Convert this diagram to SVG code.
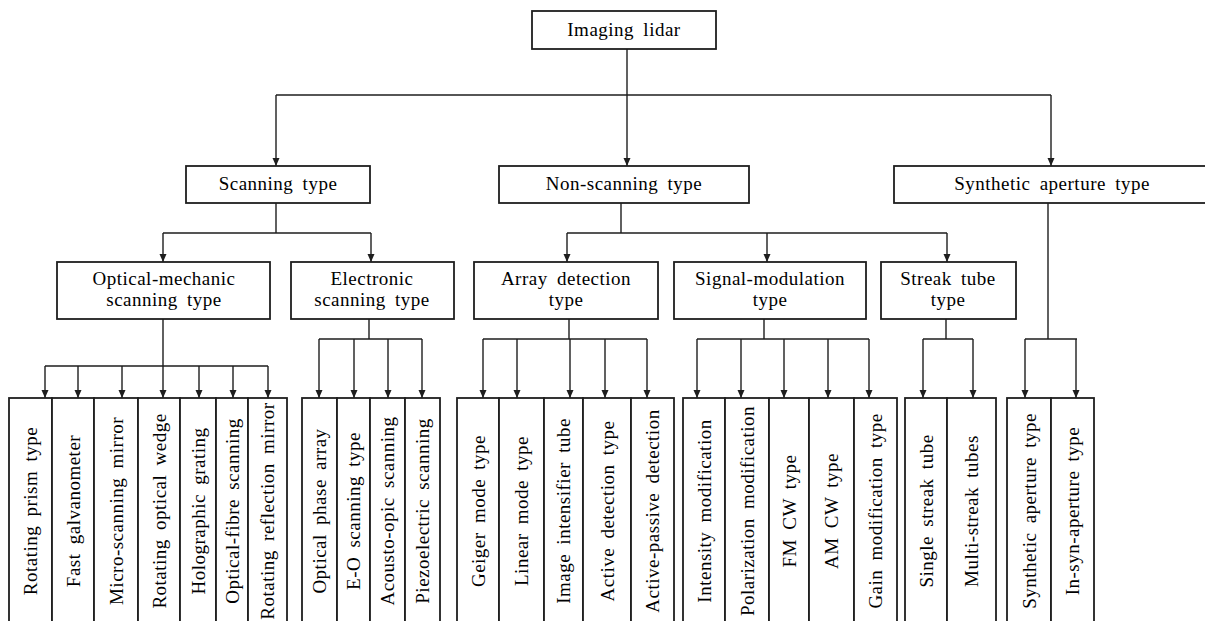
<svg xmlns="http://www.w3.org/2000/svg" width="1205" height="621" viewBox="0 0 1205 621">
<style>
.box{fill:#fff;stroke:#1e1e1e;stroke-width:1.8}
.ln{fill:none;stroke:#1e1e1e;stroke-width:1.4}
.ar{fill:none;stroke:#1e1e1e;stroke-width:1.4;marker-end:url(#ah)}
text{font-family:"Liberation Serif","Times New Roman",serif;font-size:19px;fill:#000;letter-spacing:0.5px;word-spacing:4px}
.c{text-anchor:middle}
.v{text-anchor:middle;dominant-baseline:central}
</style>
<defs>
<marker id="ah" markerUnits="userSpaceOnUse" markerWidth="8" markerHeight="8" refX="8" refY="3.5" orient="auto">
<path d="M0,0 L8,3.5 L0,7 z" fill="#1e1e1e"/>
</marker>
</defs>
<rect width="1205" height="621" fill="#fff"/>

<g id="connectors">
<path class="ln" d="M276,95 H1051"/>
<path class="ar" d="M627,49 V166"/>
<path class="ar" d="M276,95 V166"/>
<path class="ar" d="M1051,95 V166"/>

<path class="ln" d="M276,203 V233 M163,233 H371"/>
<path class="ar" d="M163,233 V262"/>
<path class="ar" d="M371,233 V262"/>

<path class="ln" d="M621,203 V233 M567,233 H947"/>
<path class="ar" d="M567,233 V262"/>
<path class="ar" d="M767,233 V262"/>
<path class="ar" d="M947,233 V262"/>

<path class="ln" d="M1048,203 V339 M1025,339 H1077"/>
<path class="ar" d="M1025,339 V398"/>
<path class="ar" d="M1076,339 V398"/>

<path class="ln" d="M163,319 V366 M45,366 H268"/>
<path class="ar" d="M45,366 V398"/>
<path class="ar" d="M78,366 V398"/>
<path class="ar" d="M122,366 V398"/>
<path class="ar" d="M163,366 V398"/>
<path class="ar" d="M199,366 V398"/>
<path class="ar" d="M233,366 V398"/>
<path class="ar" d="M268,366 V398"/>

<path class="ln" d="M369,319 V339 M319,339 H422"/>
<path class="ar" d="M319,339 V398"/>
<path class="ar" d="M354,339 V398"/>
<path class="ar" d="M388,339 V398"/>
<path class="ar" d="M422,339 V398"/>

<path class="ln" d="M569,319 V339 M483,339 H647"/>
<path class="ar" d="M483,339 V398"/>
<path class="ar" d="M517,339 V398"/>
<path class="ar" d="M570,339 V398"/>
<path class="ar" d="M605,339 V398"/>
<path class="ar" d="M647,339 V398"/>

<path class="ln" d="M764,319 V339 M697,339 H869"/>
<path class="ar" d="M697,339 V398"/>
<path class="ar" d="M741,339 V398"/>
<path class="ar" d="M784,339 V398"/>
<path class="ar" d="M828,339 V398"/>
<path class="ar" d="M869,339 V398"/>

<path class="ln" d="M946,319 V339 M923,339 H973"/>
<path class="ar" d="M923,339 V398"/>
<path class="ar" d="M973,339 V398"/>
</g>

<g id="n-root"><rect class="box" x="532" y="11" width="184" height="38"/><text class="c" x="624" y="36">Imaging lidar</text></g>

<g id="n-scanning"><rect class="box" x="186" y="166" width="184" height="37"/><text class="c" x="278" y="190">Scanning type</text></g>
<g id="n-nonscanning"><rect class="box" x="499" y="166" width="250" height="37"/><text class="c" x="624" y="190">Non-scanning type</text></g>
<g id="n-synthetic"><rect class="box" x="894" y="166" width="318" height="37"/><text class="c" x="1052" y="190">Synthetic aperture type</text></g>

<g id="n-optmech"><rect class="box" x="57" y="262" width="213" height="57"/><text class="c" x="164" y="285">Optical-mechanic</text><text class="c" x="164" y="306">scanning type</text></g>
<g id="n-electronic"><rect class="box" x="291" y="262" width="163" height="57"/><text class="c" x="372" y="285">Electronic</text><text class="c" x="372" y="306">scanning type</text></g>
<g id="n-array"><rect class="box" x="474" y="262" width="184" height="57"/><text class="c" x="566" y="285">Array detection</text><text class="c" x="566" y="306">type</text></g>
<g id="n-signal"><rect class="box" x="674" y="262" width="192" height="57"/><text class="c" x="770" y="285">Signal-modulation</text><text class="c" x="770" y="306">type</text></g>
<g id="n-streak"><rect class="box" x="881" y="262" width="135" height="57"/><text class="c" x="948" y="285">Streak tube</text><text class="c" x="948" y="306">type</text></g>

<g id="l-rotprism"><rect class="box" x="9" y="398" width="43" height="226"/><text class="v" transform="translate(30.5,511) rotate(-90)">Rotating prism type</text></g>
<g id="l-fastgalv"><rect class="box" x="52" y="398" width="42" height="226"/><text class="v" transform="translate(73,511) rotate(-90)">Fast galvanometer</text></g>
<g id="l-micro"><rect class="box" x="94" y="398" width="44" height="226"/><text class="v" transform="translate(116,511) rotate(-90)">Micro-scanning mirror</text></g>
<g id="l-rotwedge"><rect class="box" x="138" y="398" width="42" height="226"/><text class="v" transform="translate(159,511) rotate(-90)">Rotating optical wedge</text></g>
<g id="l-holo"><rect class="box" x="180" y="398" width="36" height="226"/><text class="v" transform="translate(198,511) rotate(-90)">Holographic grating</text></g>
<g id="l-fibre"><rect class="box" x="216" y="398" width="32" height="226"/><text class="v" transform="translate(232,511) rotate(-90)">Optical-fibre scanning</text></g>
<g id="l-rotrefl"><rect class="box" x="248" y="398" width="39" height="226"/><text class="v" transform="translate(267.5,511) rotate(-90)">Rotating reflection mirror</text></g>

<g id="l-opa"><rect class="box" x="302" y="398" width="35" height="226"/><text class="v" transform="translate(319.5,511) rotate(-90)">Optical phase array</text></g>
<g id="l-eo"><rect class="box" x="337" y="398" width="33" height="226"/><text class="v" transform="translate(353.5,511) rotate(-90)">E-O scanning type</text></g>
<g id="l-ao"><rect class="box" x="370" y="398" width="35" height="226"/><text class="v" transform="translate(387.5,511) rotate(-90)">Acousto-opic scanning</text></g>
<g id="l-piezo"><rect class="box" x="405" y="398" width="35" height="226"/><text class="v" transform="translate(422.5,511) rotate(-90)">Piezoelectric scanning</text></g>

<g id="l-geiger"><rect class="box" x="457" y="398" width="42" height="226"/><text class="v" transform="translate(478,511) rotate(-90)">Geiger mode type</text></g>
<g id="l-linear"><rect class="box" x="499" y="398" width="45" height="226"/><text class="v" transform="translate(521.5,511) rotate(-90)">Linear mode type</text></g>
<g id="l-iit"><rect class="box" x="544" y="398" width="39" height="226"/><text class="v" transform="translate(563.5,511) rotate(-90)">Image intensifier tube</text></g>
<g id="l-active"><rect class="box" x="583" y="398" width="48" height="226"/><text class="v" transform="translate(607,511) rotate(-90)">Active detection type</text></g>
<g id="l-actpass"><rect class="box" x="631" y="398" width="43" height="226"/><text class="v" transform="translate(652.5,511) rotate(-90)">Active-passive detection</text></g>

<g id="l-intensity"><rect class="box" x="683" y="398" width="42" height="226"/><text class="v" transform="translate(704,511) rotate(-90)">Intensity modification</text></g>
<g id="l-polar"><rect class="box" x="725" y="398" width="44" height="226"/><text class="v" transform="translate(747,511) rotate(-90)">Polarization modification</text></g>
<g id="l-fmcw"><rect class="box" x="769" y="398" width="40" height="226"/><text class="v" transform="translate(789,511) rotate(-90)">FM CW type</text></g>
<g id="l-amcw"><rect class="box" x="809" y="398" width="45" height="226"/><text class="v" transform="translate(831.5,511) rotate(-90)">AM CW type</text></g>
<g id="l-gain"><rect class="box" x="854" y="398" width="43" height="226"/><text class="v" transform="translate(875.5,511) rotate(-90)">Gain modification type</text></g>

<g id="l-single"><rect class="box" x="905" y="398" width="42" height="226"/><text class="v" transform="translate(926,511) rotate(-90)">Single streak tube</text></g>
<g id="l-multi"><rect class="box" x="947" y="398" width="49" height="226"/><text class="v" transform="translate(971.5,511) rotate(-90)">Multi-streak tubes</text></g>

<g id="l-synap"><rect class="box" x="1007" y="398" width="44" height="226"/><text class="v" transform="translate(1029,511) rotate(-90)">Synthetic aperture type</text></g>
<g id="l-insyn"><rect class="box" x="1051" y="398" width="43" height="226"/><text class="v" transform="translate(1072.5,511) rotate(-90)">In-syn-aperture type</text></g>
</svg>
